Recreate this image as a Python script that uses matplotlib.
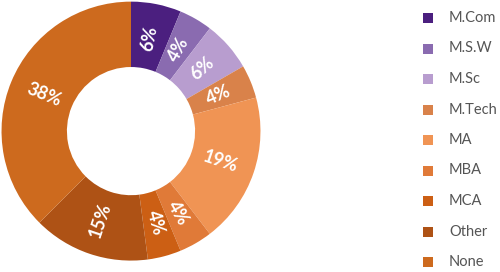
import matplotlib
matplotlib.use('Agg')
import matplotlib.pyplot as plt
import numpy as np

# Data
labels = ['M.Com', 'M.S.W', 'M.Sc', 'M.Tech', 'MA', 'MBA', 'MCA', 'Other', 'None']
counts = [3, 2, 3, 2, 9, 2, 2, 7, 18]
colors = ['#4b1f7f', '#8a6bb0', '#b89dcf', '#d9824a', '#f09454',
          '#e07a38', '#cc5f14', '#ae5215', '#cd6a1e']

plt.rcParams['font.family'] = ['Lato', 'DejaVu Sans']

fig = plt.figure(figsize=(5, 2.72), dpi=100)
ax = fig.add_axes([0.003, 0.042, 0.518, 0.952])

wedges, _ = ax.pie(counts, colors=colors, startangle=90, counterclock=False,
                   wedgeprops=dict(width=0.505, linewidth=0))
ax.set_xlim(-1, 1)
ax.set_ylim(-1, 1)
ax.set_aspect('equal')

total = sum(counts)
for w, c in zip(wedges, counts):
    theta = (w.theta1 + w.theta2) / 2
    r = 0.73
    x = r * np.cos(np.radians(theta))
    y = r * np.sin(np.radians(theta))
    rot = theta
    while rot > 90:
        rot -= 180
    while rot <= -90:
        rot += 180
    ax.text(x, y, f'{round(100 * c / total)}%', color='white', fontsize=13,
            fontweight='bold', ha='center', va='center', rotation=rot,
            rotation_mode='anchor')

# Legend
lax = fig.add_axes([0, 0, 1, 1])
lax.set_xlim(0, 500)
lax.set_ylim(272, 0)
lax.axis('off')
for i, (lab, col) in enumerate(zip(labels, colors)):
    yy = 18 + i * 30.5
    lax.add_patch(plt.Rectangle((423, yy - 5), 10, 10, color=col, lw=0))
    lax.text(449, yy, lab, fontsize=10.5, color='#555555', va='center', ha='left')

plt.savefig('out.png', dpi=100)
